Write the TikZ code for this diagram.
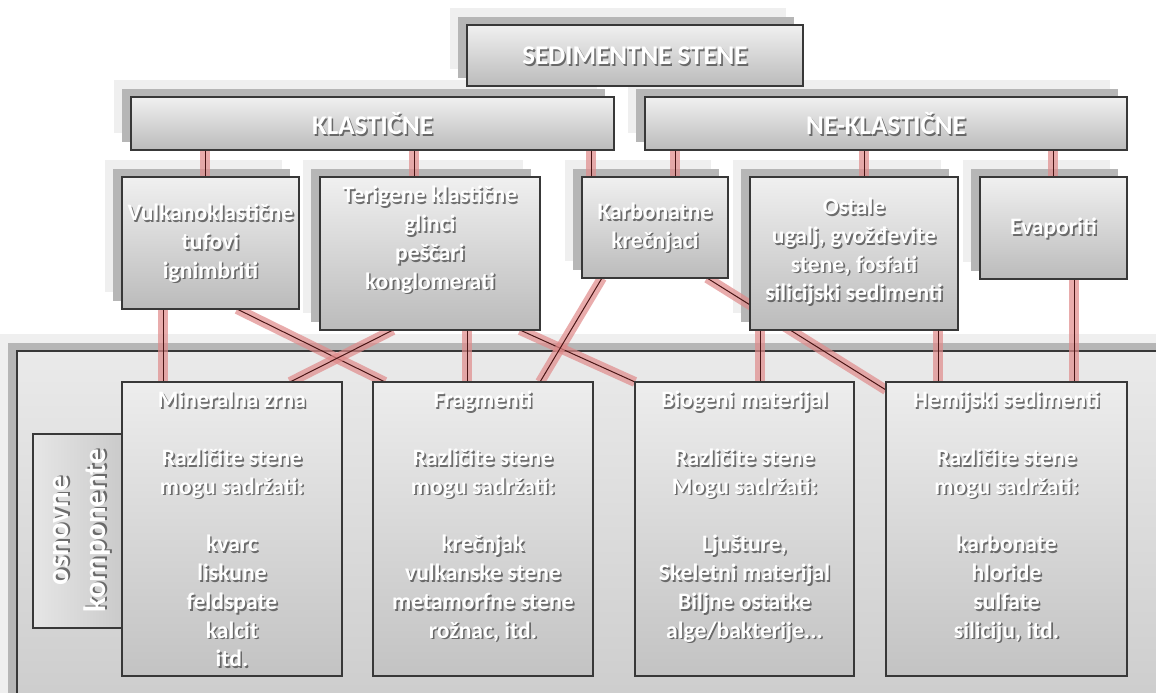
\documentclass[tikz,border=0pt]{standalone}
\usepackage{fontspec}
\setmainfont{Carlito}
\definecolor{bordc}{HTML}{383838}
\definecolor{faceT}{HTML}{F0F0F0}
\definecolor{faceB}{HTML}{BBBBBB}
\definecolor{faceT3}{HTML}{EDEDED}
\definecolor{faceB3}{HTML}{C3C3C3}
\definecolor{contT}{HTML}{EAEAEA}
\definecolor{contB}{HTML}{CCCCCC}
\definecolor{osnL}{HTML}{E6E6E6}
\definecolor{osnR}{HTML}{CACACA}
\definecolor{shD}{HTML}{B6B6B6}
\definecolor{shL}{HTML}{EFEFEF}
\definecolor{glowc}{HTML}{E08A8A}
\definecolor{corec}{HTML}{4A1515}
\definecolor{txtsh}{HTML}{505050}
\pgfdeclarelayer{bg}
\pgfdeclarelayer{contl}
\pgfdeclarelayer{mid}
\pgfsetlayers{bg,contl,mid,main}
\newcommand\bx[6][face]{\node[#1, minimum width={#5-#3}, minimum height={#6-#4}] (#2) at (#3,#4) {};}
\newcommand\tx[4][]{%
  \node[lblsh,#1,shift={(1.6,1.8)}] (#2s) at #3 {#4};
  \node[lbl,#1] (#2) at #3 {#4};}
\begin{document}
\begin{tikzpicture}[x=1pt,y=-1pt,
  face/.style={draw=bordc, line width=1.3pt, top color=faceT, bottom color=faceB, inner sep=0pt, outer sep=0pt, anchor=north west},
  face3/.style={face, top color=faceT3, bottom color=faceB3},
  contface/.style={face, top color=contT, bottom color=contB},
  osnface/.style={face, left color=osnL, right color=osnR},
  conn/.style={draw=corec, line width=1pt, preaction={draw=glowc, line width=10pt, draw opacity=0.7}},
  hdr/.style={font=\fontsize{27}{32}\selectfont\bfseries},
  bod/.style={font=\fontsize{23.6}{28.8}\selectfont\bfseries},
  lbl/.style={text=white, align=center, inner sep=0pt},
  lblsh/.style={text=txtsh, align=center, inner sep=0pt, text opacity=0.8},
]
\useasboundingbox (0,0) rectangle (1156,693);
% boxes (main layer)
\bx{top}{467}{25}{803}{86}
\bx{klast}{131}{97}{614}{150}
\bx{nek}{645}{97}{1127}{150}
\bx{vul}{122}{177}{299}{309}
\bx{ter}{320}{177}{540}{330}
\bx{karb}{582}{177}{728}{278}
\bx{ost}{750}{177}{958}{330}
\bx{evap}{980}{177}{1127}{279}
\bx[osnface]{osn}{33}{434}{123}{628}
\bx[face3]{min}{122}{382}{342}{676}
\bx[face3]{frag}{373}{382}{593}{676}
\bx[face3]{bio}{635}{382}{854}{676}
\bx[face3]{hem}{886}{382}{1127}{676}
\begin{pgfonlayer}{contl}
\bx[contface]{cont}{17}{351}{1185}{715}
\end{pgfonlayer}
\begin{pgfonlayer}{bg}
\fill[white] (0,0) rectangle (1156,693);
\foreach \n in {top,klast,nek,vul,ter,karb,ost,evap,cont}{
  \fill[shL] ([shift={(-17,-17)}]\n.north west) rectangle ([shift={(-17,-17)}]\n.south east);}
\foreach \n in {top,klast,nek,vul,ter,karb,ost,evap,cont}{
  \fill[shD] ([shift={(-9,-8)}]\n.north west) rectangle ([shift={(-9,-8)}]\n.south east);}
\end{pgfonlayer}
% connectors
\begin{pgfonlayer}{mid}
\draw[conn] ([xshift=74pt]klast.south west) -- ([xshift=74pt]klast.south west |- vul.north);
\draw[conn] ([xshift=283pt]klast.south west) -- ([xshift=283pt]klast.south west |- ter.north);
\draw[conn] ([xshift=460pt]klast.south west) -- ([xshift=460pt]klast.south west |- karb.north);
\draw[conn] ([xshift=30pt]nek.south west) -- ([xshift=30pt]nek.south west |- karb.north);
\draw[conn] ([xshift=219pt]nek.south west) -- ([xshift=219pt]nek.south west |- ost.north);
\draw[conn] ([xshift=408pt]nek.south west) -- ([xshift=408pt]nek.south west |- evap.north);
\draw[conn] ([xshift=41pt]vul.south west) -- ([xshift=41pt]vul.south west |- min.north);
\draw[conn] ([xshift=115pt]vul.south west) -- ([xshift=12pt]frag.north west);
\draw[conn] ([xshift=73pt]ter.south west) -- ([xshift=168pt]min.north west);
\draw[conn] ([xshift=147pt]ter.south west) -- ([xshift=147pt]ter.south west |- frag.north);
\draw[conn] ([xshift=200pt]ter.south west) -- (bio.north west);
\draw[conn] ([xshift=20pt]karb.south west) -- ([xshift=167pt]frag.north west);
\draw[conn] ([xshift=125pt]karb.south west) -- ([yshift=-8pt]hem.north west);
\draw[conn] ([xshift=10pt]ost.south west) -- ([xshift=10pt]ost.south west |- bio.north);
\draw[conn] ([xshift=188pt]ost.south west) -- ([xshift=188pt]ost.south west |- hem.north);
\draw[conn] ([xshift=94pt]evap.south west) -- ([xshift=94pt]evap.south west |- hem.north);
\end{pgfonlayer}
% texts
\tx[hdr]{topt}{(top.center)}{SEDIMENTNE STENE}
\tx[hdr]{klastt}{(klast.center)}{KLASTIČNE}
\tx[hdr]{nekt}{(nek.center)}{NE-KLASTIČNE}
\tx[bod]{vult}{(vul.center)}{Vulkanoklastične\\tufovi\\ignimbriti}
\tx[bod]{tert}{([yshift=14pt]ter.center)}{Terigene klastične\\glinci\\peščari\\konglomerati}
\tx[bod]{karbt}{(karb.center)}{Karbonatne\\krečnjaci}
\tx[bod]{ostt}{([yshift=2pt]ost.center)}{Ostale\\ugalj, gvožđevite\\stene, fosfati\\silicijski sedimenti}
\tx[bod]{evapt}{(evap.center)}{Evaporiti}
\tx[bod,anchor=north]{mint}{([yshift=-5.3pt]min.north)}{\strut Mineralna zrna\\[28.8pt]Različite stene\\mogu sadržati:\\[28.8pt]kvarc\\liskune\\feldspate\\kalcit\\itd.}
\tx[bod,anchor=north]{fragt}{([yshift=-5.3pt]frag.north)}{\strut Fragmenti\\[28.8pt]Različite stene\\mogu sadržati:\\[28.8pt]krečnjak\\vulkanske stene\\metamorfne stene\\rožnac, itd.}
\tx[bod,anchor=north]{biot}{([yshift=-5.3pt]bio.north)}{\strut Biogeni materijal\\[28.8pt]Različite stene\\Mogu sadržati:\\[28.8pt]Ljušture,\\Skeletni materijal\\Biljne ostatke\\alge/bakterije...}
\tx[bod,anchor=north]{hemt}{([yshift=-5.3pt]hem.north)}{\strut Hemijski sedimenti\\[28.8pt]Različite stene\\mogu sadržati:\\[28.8pt]karbonate\\hloride\\sulfate\\siliciju, itd.}
\tx[rotate=90,font=\fontsize{31}{37}\selectfont\bfseries]{osnt}{([xshift=4pt]osn.center)}{osnovne\\komponente}
\end{tikzpicture}
\end{document}
